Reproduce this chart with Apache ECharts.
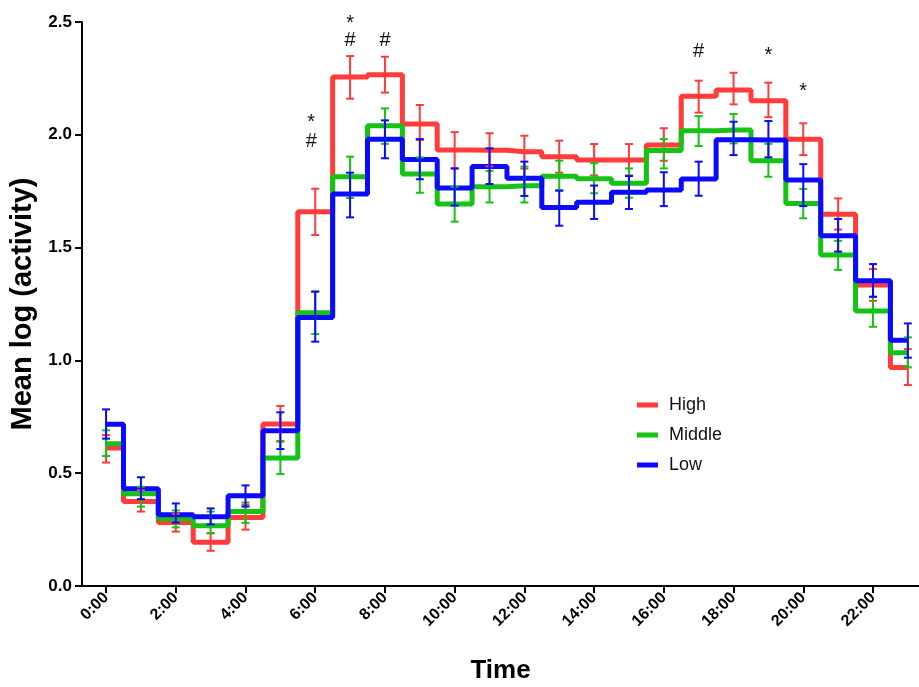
<!DOCTYPE html>
<html>
<head>
<meta charset="utf-8">
<script src="https://cdn.jsdelivr.net/npm/echarts@6/dist/echarts.min.js"></script>
<style>
  html, body { margin: 0; padding: 0; background: #fff; }
  #chart { width: 919px; height: 687px; }
</style>
</head>
<body>
<div id="chart"></div>
<script>
const hours = [0, 1, 2, 3, 4, 5, 6, 7, 8, 9, 10, 11, 12, 13, 14, 15, 16, 17, 18, 19, 20, 21, 22, 23];
const tickHours = [0, 2, 4, 6, 8, 10, 12, 14, 16, 18, 20, 22];

// High
const highMean = [0.612, 0.375, 0.282, 0.194, 0.304, 0.718, 1.659, 2.256, 2.266, 2.048, 1.933, 1.931,
                  1.925, 1.903, 1.888, 1.888, 1.955, 2.171, 2.199, 2.151, 1.980, 1.648, 1.334, 0.969];
const highLo   = [0.547, 0.330, 0.241, 0.156, 0.250, 0.640, 1.556, 2.160, 2.187, 1.977, 1.851, 1.860,
                  1.850, 1.832, 1.820, 1.820, 1.885, 2.098, 2.135, 2.078, 1.910, 1.580, 1.264, 0.891];
const highHi   = [0.669, 0.425, 0.320, 0.233, 0.360, 0.798, 1.761, 2.349, 2.346, 2.132, 2.012, 2.007,
                  1.996, 1.974, 1.959, 1.959, 2.029, 2.240, 2.275, 2.231, 2.051, 1.718, 1.405, 1.050];

// Middle
const midMean = [0.630, 0.409, 0.298, 0.267, 0.330, 0.567, 1.211, 1.814, 2.040, 1.826, 1.693, 1.770,
                 1.774, 1.816, 1.805, 1.785, 1.930, 2.018, 2.021, 1.885, 1.696, 1.467, 1.219, 1.034];
const midLo   = [0.576, 0.352, 0.260, 0.235, 0.280, 0.496, 1.117, 1.720, 1.960, 1.743, 1.615, 1.700,
                 1.700, 1.755, 1.741, 1.721, 1.851, 1.950, 1.962, 1.814, 1.630, 1.401, 1.149, 0.969];
const midHi   = [0.690, 0.440, 0.335, 0.330, 0.370, 0.643, 1.305, 1.903, 2.117, 1.900, 1.770, 1.840,
                 1.859, 1.885, 1.874, 1.851, 1.981, 2.083, 2.092, 1.960, 1.760, 1.530, 1.282, 1.102];

// Low
const lowMean = [0.717, 0.431, 0.316, 0.307, 0.400, 0.688, 1.190, 1.738, 1.980, 1.890, 1.764, 1.859,
                 1.807, 1.678, 1.701, 1.745, 1.755, 1.804, 1.978, 1.977, 1.800, 1.553, 1.353, 1.089];
const lowLo   = [0.653, 0.385, 0.281, 0.273, 0.352, 0.607, 1.083, 1.634, 1.896, 1.803, 1.686, 1.782,
                 1.729, 1.597, 1.627, 1.671, 1.684, 1.730, 1.910, 1.900, 1.684, 1.482, 1.282, 1.012];
const lowHi   = [0.783, 0.482, 0.366, 0.344, 0.446, 0.770, 1.305, 1.832, 2.064, 1.981, 1.851, 1.940,
                 1.881, 1.752, 1.775, 1.817, 1.834, 1.881, 2.058, 2.061, 1.870, 1.627, 1.427, 1.164];

// significance marks
const sigHours  = [6, 6, 7, 7, 8, 17, 19, 20];
const sigMarks  = ['*', '#', '*', '#', '#', '#', '*', '*'];
const sigLevels = [2.08, 1.97, 2.52, 2.42, 2.42, 2.37, 2.38, 2.22];

const FONT = 'Arial, "Liberation Sans", sans-serif';
const groups = [
    { name: 'High',   color: '#ff3b3b', mean: highMean, lo: highLo, hi: highHi },
    { name: 'Middle', color: '#14c314', mean: midMean,  lo: midLo,  hi: midHi },
    { name: 'Low',    color: '#0a0aff', mean: lowMean,  lo: lowLo,  hi: lowHi }
];

const stepLine = g => ({
    name: g.name,
    type: 'line',
    step: 'middle',
    symbol: 'none',
    color: g.color,
    z: 2,
    lineStyle: { color: g.color, width: 5 },
    data: hours.map((h, i) => [h, g.mean[i]])
});

const errorBars = g => ({
    name: g.name,
    type: 'custom',
    z: 4,
    data: hours.map((h, i) => [h, g.lo[i], g.hi[i]]),
    encode: { x: 0, y: [1, 2] },
    renderItem: (params, api) => {
        const top = api.coord([api.value(0), api.value(2)]);
        const bot = api.coord([api.value(0), api.value(1)]);
        const w = 4;
        const style = { stroke: g.color, lineWidth: 2 };
        return {
            type: 'group',
            children: [
                { type: 'line', shape: { x1: top[0], y1: top[1], x2: bot[0], y2: bot[1] }, style },
                { type: 'line', shape: { x1: top[0] - w, y1: top[1], x2: top[0] + w, y2: top[1] }, style },
                { type: 'line', shape: { x1: bot[0] - w, y1: bot[1], x2: bot[0] + w, y2: bot[1] }, style }
            ]
        };
    }
});

const marks = {
    type: 'custom',
    silent: true,
    z: 5,
    clip: false,
    data: sigHours.map((h, i) => [h, sigLevels[i], i]),
    renderItem: (params, api) => {
        const p = api.coord([api.value(0), api.value(1)]);
        const t = sigMarks[api.value(2)];
        return {
            type: 'text',
            x: p[0] - (api.value(0) === 6 ? 4 : 0),
            y: p[1] + (t === '*' ? 6 : 0),
            style: { text: t, fill: '#111', font: '20px ' + FONT, align: 'center', verticalAlign: 'middle' }
        };
    }
};

const chartOptions = {
    animation: false,
    backgroundColor: '#fff',
    grid: { left: 82, right: 0, top: 22, bottom: 101, containLabel: false, outerBoundsMode: 'none' },
    legend: {
        orient: 'vertical',
        left: 637,
        top: 396,
        itemWidth: 21,
        itemHeight: 5,
        itemGap: 12,
        icon: 'rect',
        padding: 0,
        data: ['High', 'Middle', 'Low'],
        textStyle: { fontFamily: FONT, fontSize: 18, color: '#111', padding: [0, 0, 0, 6] }
    },
    xAxis: {
        type: 'value',
        min: -0.69,
        max: 23.32,
        name: 'Time',
        nameLocation: 'middle',
        nameGap: 72,
        nameTextStyle: { fontFamily: FONT, fontSize: 26, fontWeight: 'bold', color: '#000' },
        splitLine: { show: false },
        axisLine: { onZero: false, lineStyle: { color: '#000', width: 2 } },
        axisTick: { customValues: tickHours, length: 7, lineStyle: { color: '#000', width: 2 } },
        axisLabel: {
            customValues: tickHours,
            rotate: 45,
            margin: 9,
            fontFamily: FONT,
            fontSize: 16,
            fontWeight: 'bold',
            color: '#000',
            formatter: v => v + ':00'
        }
    },
    yAxis: {
        type: 'value',
        min: 0,
        max: 2.5,
        interval: 0.5,
        name: 'Mean log (activity)',
        nameLocation: 'middle',
        nameGap: 40,
        nameTextStyle: { fontFamily: FONT, fontSize: 29, fontWeight: 'bold', color: '#000' },
        splitLine: { show: false },
        axisLine: { show: true, onZero: false, lineStyle: { color: '#000', width: 2 } },
        axisTick: { show: true, length: 7, lineStyle: { color: '#000', width: 2 } },
        axisLabel: {
            margin: 10,
            fontFamily: FONT,
            fontSize: 17,
            fontWeight: 'bold',
            color: '#000',
            formatter: v => v.toFixed(1)
        }
    },
    series: [
        ...groups.map(stepLine),
        ...groups.map(errorBars),
        marks
    ]
};

const chart = echarts.init(document.getElementById('chart'));
chart.setOption(chartOptions);
</script>
</body>
</html>
